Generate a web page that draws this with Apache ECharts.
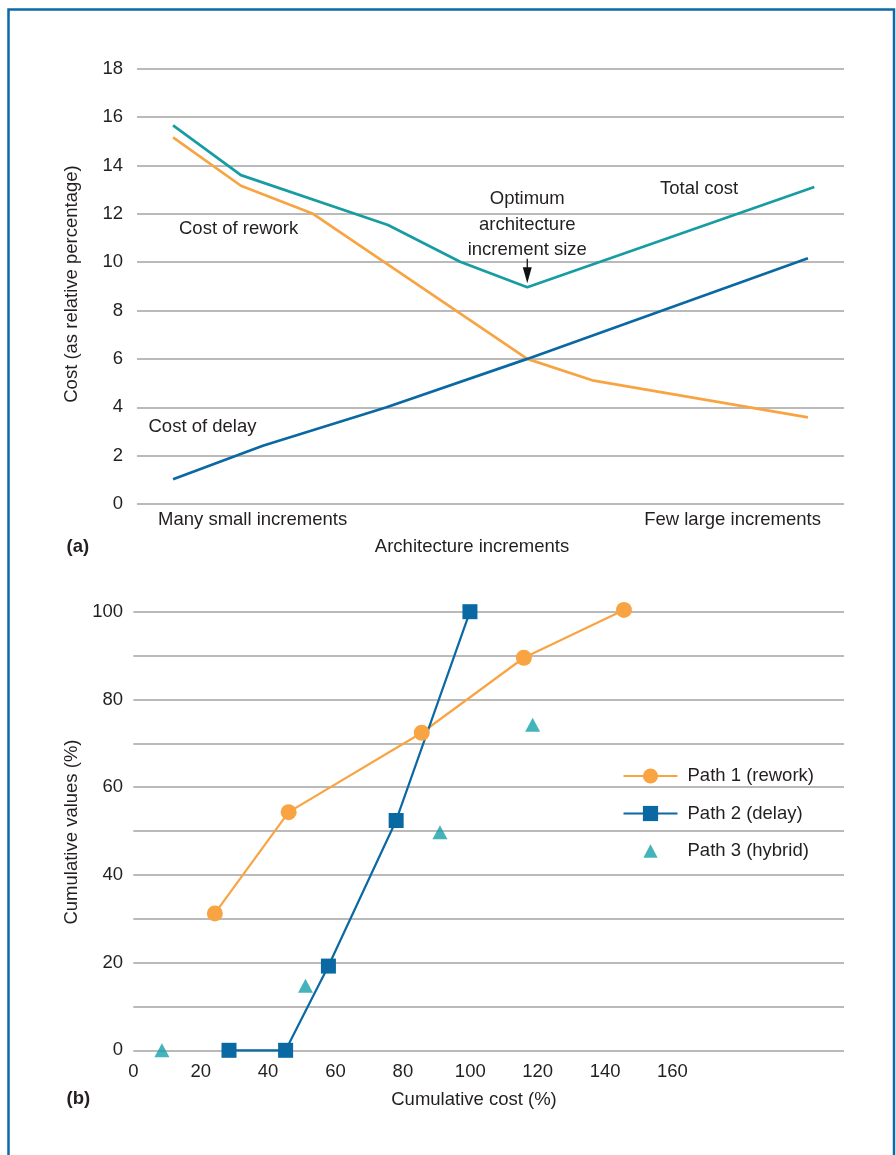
<!DOCTYPE html>
<html><head><meta charset="utf-8">
<script src="https://cdn.jsdelivr.net/npm/echarts@6/dist/echarts.min.js"></script>
<style>html,body{margin:0;padding:0;background:#fff}#c{width:896px;height:1155px}</style>
</head><body><div id="c"></div>
<script>
// ---------- Panel (a) data ----------
const aYTicks = [0, 2, 4, 6, 8, 10, 12, 14, 16, 18];
const reworkX = [5.1, 14.7, 24.9, 55.2, 64.6, 94.9];
const reworkY = [15.16, 13.16, 12.0, 6.0, 5.1, 3.58];
const totalX  = [5.1, 14.7, 35.5, 45.7, 55.2, 95.8];
const totalY  = [15.66, 13.6, 11.54, 10.02, 8.96, 13.11];
const delayX  = [5.1, 17.8, 35.3, 55.2, 94.9];
const delayY  = [1.02, 2.41, 4.0, 6.0, 10.16];
const optimumPoint = [55.2, 8.96];

// ---------- Panel (b) data ----------
const bXTicks = [0, 20, 40, 60, 80, 100, 120, 140, 160];
const bYTicks = [0, 20, 40, 60, 80, 100];
const path1X = [24.2, 46.1, 85.6, 115.9, 145.6];
const path1Y = [31.2, 54.3, 72.4, 89.5, 100.4];
const path2X = [28.4, 45.2, 57.9, 78.0, 99.9];
const path2Y = [0, 0, 19.2, 52.4, 100];
const path3X = [8.5, 51.1, 91.0, 118.5];
const path3Y = [0, 14.7, 49.7, 74.2];
const legendNames = ['Path 1 (rework)', 'Path 2 (delay)', 'Path 3 (hybrid)'];

const zip = (xs, ys) => xs.map((x, i) => [x, ys[i]]);

const FONT = '"Liberation Sans", Arial, sans-serif';
const FS = 18.5;
const TXT = '#231f20';
const GRID = '#a3a3a3';
const ORANGE = '#f8a443';
const BLUE = '#0a68a3';
const TEAL = '#179ca3';
const TEAL_M = '#16a0a9';

function txt(x, y, s, align, extra, weight) {
  return Object.assign({
    type: 'text', x: x, y: y, silent: true,
    style: { text: s, font: (weight || '') + ' ' + FS + 'px ' + FONT, fill: TXT, align: align || 'left', verticalAlign: 'middle' }
  }, extra || {});
}

const chart = echarts.init(document.getElementById('c'), null, { renderer: 'canvas' });

const option = {
  animation: false,
  backgroundColor: '#ffffff',
  textStyle: { fontFamily: FONT },
  grid: [
    { left: 137, right: 52, top: 68.7, height: 435.3 },
    { left: 133.3, right: 52, top: 611.7, height: 438.6 }
  ],
  xAxis: [
    { gridIndex: 0, type: 'value', min: 0, max: 100, show: false },
    { gridIndex: 1, type: 'value', min: 0, max: 210.9,
      axisLine: { show: false }, axisTick: { show: false }, splitLine: { show: false },
      axisLabel: { customValues: bXTicks, margin: 12, color: TXT, fontSize: FS, fontFamily: FONT } }
  ],
  yAxis: [
    { gridIndex: 0, type: 'value', min: 0, max: 18, interval: 2,
      axisLine: { show: false }, axisTick: { show: false },
      splitLine: { lineStyle: { color: GRID, width: 1.5 } },
      axisLabel: { margin: 14, color: TXT, fontSize: FS, fontFamily: FONT,
        formatter: v => aYTicks.includes(v) ? String(v) : '' } },
    { gridIndex: 1, type: 'value', min: 0, max: 100, interval: 10,
      axisLine: { show: false }, axisTick: { show: false },
      splitLine: { lineStyle: { color: GRID, width: 1.5 } },
      axisLabel: { margin: 10.3, color: TXT, fontSize: FS, fontFamily: FONT,
        formatter: v => bYTicks.includes(v) ? String(v) : '' } }
  ],
  legend: {
    orient: 'vertical', left: 617.5, top: 760,
    itemWidth: 54, itemHeight: 19, itemGap: 15.5,
    data: [
      { name: legendNames[0] },
      { name: legendNames[1] },
      { name: legendNames[2], icon: 'path://M0,0M20,20M2.5,17L10,3L17.5,17Z' }
    ],
    textStyle: { color: TXT, fontSize: FS, fontFamily: FONT, lineHeight: 22, padding: [0, 0, 0, 5] }
  },
  series: [
    { name: 'Cost of rework', type: 'line', xAxisIndex: 0, yAxisIndex: 0, data: zip(reworkX, reworkY),
      showSymbol: false, lineStyle: { color: ORANGE, width: 2.7 }, itemStyle: { color: ORANGE }, silent: true },
    { name: 'Total cost', type: 'line', xAxisIndex: 0, yAxisIndex: 0, data: zip(totalX, totalY),
      showSymbol: false, lineStyle: { color: TEAL, width: 2.7 }, itemStyle: { color: TEAL }, silent: true },
    { name: 'Cost of delay', type: 'line', xAxisIndex: 0, yAxisIndex: 0, data: zip(delayX, delayY),
      showSymbol: false, lineStyle: { color: BLUE, width: 2.7 }, itemStyle: { color: BLUE }, silent: true },
    { name: legendNames[0], type: 'line', xAxisIndex: 1, yAxisIndex: 1, data: zip(path1X, path1Y), clip: false,
      symbol: 'circle', symbolSize: 16, lineStyle: { color: ORANGE, width: 2.2 }, itemStyle: { color: ORANGE } },
    { name: legendNames[1], type: 'line', xAxisIndex: 1, yAxisIndex: 1, data: zip(path2X, path2Y), clip: false,
      symbol: 'rect', symbolSize: 15, lineStyle: { color: BLUE, width: 2.2 }, itemStyle: { color: BLUE } },
    { name: legendNames[2], type: 'scatter', xAxisIndex: 1, yAxisIndex: 1, data: zip(path3X, path3Y), clip: false,
      symbol: 'triangle', symbolSize: [15, 14], symbolKeepAspect: true, itemStyle: { color: TEAL_M } }
  ]
};
chart.setOption(option);

// annotations
const opt = chart.convertToPixel({ gridIndex: 0 }, optimumPoint);
const ax = opt[0], ay = opt[1];
const graphics = [
  // frame
  { type: 'polyline', silent: true, shape: { points: [[8.5, 1160], [8.5, 9.5], [894, 9.5], [894, 1160]] },
    style: { stroke: '#0d6aa6', lineWidth: 2.5, fill: null } },
  txt(71.7, 284, 'Cost (as relative percentage)', 'center', { rotation: Math.PI / 2 }),
  txt(71.7, 832, 'Cumulative values (%)', 'center', { rotation: Math.PI / 2 }),
  txt(179, 229, 'Cost of rework'),
  txt(148.5, 427, 'Cost of delay'),
  txt(660, 189, 'Total cost'),
  txt(ax, ay - 88.5, 'Optimum', 'center'),
  txt(ax, ay - 62.5, 'architecture', 'center'),
  txt(ax, ay - 37.5, 'increment size', 'center'),
  { type: 'line', silent: true, shape: { x1: ax, y1: ay - 28.5, x2: ax, y2: ay - 16 },
    style: { stroke: '#111', lineWidth: 1.3 } },
  { type: 'polygon', silent: true, shape: { points: [[ax - 4.5, ay - 20], [ax + 4.5, ay - 20], [ax, ay - 4]] },
    style: { fill: '#111' } },
  txt(158, 520, 'Many small increments'),
  txt(821, 520, 'Few large increments', 'right'),
  txt(472, 547, 'Architecture increments', 'center'),
  txt(66.5, 547, '(a)', 'left', null, 'bold'),
  txt(474, 1100, 'Cumulative cost (%)', 'center'),
  txt(66.5, 1099, '(b)', 'left', null, 'bold')
];
chart.setOption({ graphic: graphics });
</script>
</body></html>
